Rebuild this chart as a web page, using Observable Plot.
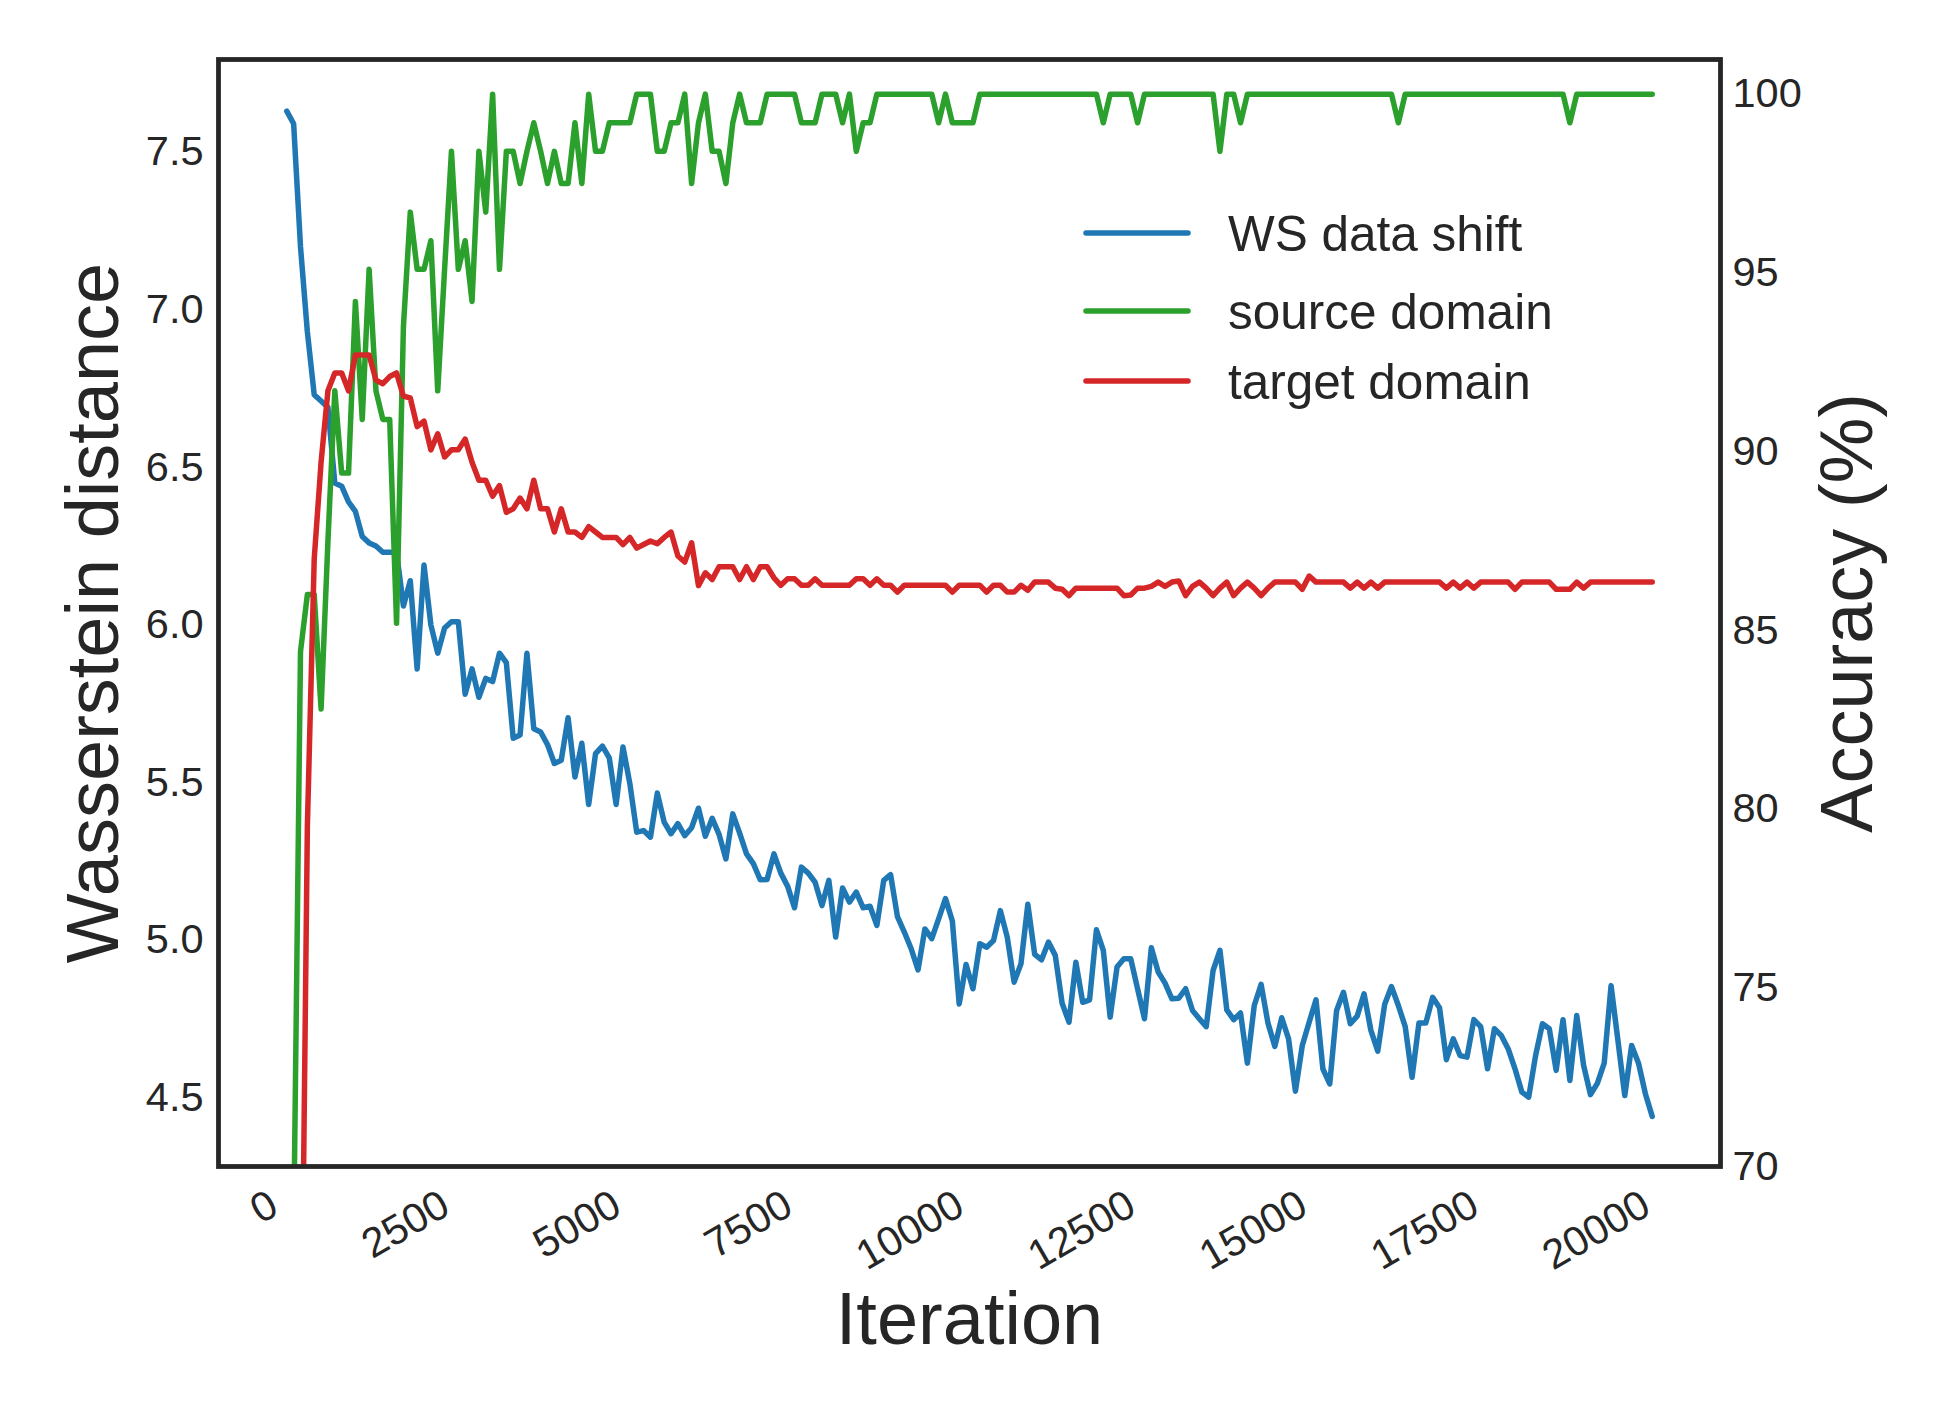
<!DOCTYPE html>
<html><head><meta charset="utf-8">
<script src="https://cdn.jsdelivr.net/npm/d3@7"></script>
<script src="https://cdn.jsdelivr.net/npm/@observablehq/plot@0.6"></script>
<style>
html,body{margin:0;padding:0;background:#fff;}
#chart{position:relative;width:1951px;height:1417px;background:#fff;font-family:"Liberation Sans",Arial,sans-serif;}
#chart svg{position:absolute;left:0;top:0;}
</style></head><body><div id="chart"></div>
<script>
// ---- data ----
const iterations = d3.range(100, 20001, 100);
const wsDataShift = [
7.63,7.59,7.20,6.93,6.73,6.71,6.69,6.45,6.44,6.39,
6.36,6.28,6.26,6.25,6.23,6.23,6.23,6.06,6.14,5.86,
6.19,6.00,5.91,5.99,6.01,6.01,5.78,5.86,5.77,5.83,
5.82,5.91,5.88,5.64,5.65,5.91,5.67,5.66,5.62,5.56,
5.57,5.705,5.517,5.624,5.430,5.591,5.615,5.578,5.430,5.612,
5.496,5.342,5.347,5.326,5.466,5.374,5.337,5.369,5.331,5.356,
5.418,5.329,5.386,5.335,5.257,5.400,5.339,5.273,5.242,5.191,
5.192,5.273,5.212,5.170,5.102,5.231,5.212,5.183,5.109,5.189,
5.009,5.165,5.120,5.152,5.102,5.107,5.046,5.189,5.207,5.074,
5.025,4.972,4.905,5.035,5.004,5.067,5.131,5.060,4.797,4.922,
4.845,4.988,4.977,4.998,5.093,5.009,4.866,4.924,5.113,4.954,
4.937,4.993,4.951,4.799,4.739,4.929,4.802,4.810,5.032,4.967,
4.755,4.914,4.940,4.940,4.845,4.750,4.975,4.898,4.863,4.813,
4.815,4.845,4.776,4.750,4.725,4.903,4.967,4.778,4.747,4.768,
4.609,4.792,4.859,4.736,4.662,4.753,4.686,4.520,4.665,4.739,
4.810,4.591,4.543,4.776,4.834,4.734,4.758,4.829,4.713,4.647,
4.795,4.852,4.792,4.725,4.564,4.736,4.736,4.818,4.785,4.620,
4.686,4.633,4.628,4.747,4.725,4.591,4.718,4.697,4.655,4.591,
4.517,4.501,4.633,4.734,4.718,4.586,4.747,4.554,4.760,4.602,
4.509,4.545,4.609,4.855,4.681,4.506,4.665,4.609,4.512,4.440
];
const sourceDomain = [
50,68,84.4,86.0,86.0,82.8,87.5,91.7,89.4,89.4,
94.2,90.9,95.1,91.7,90.9,90.9,85.2,93.5,96.7,95.1,
95.1,95.9,91.7,95.1,98.4,95.1,95.9,94.2,98.4,96.7,
100,95.1,98.4,98.4,97.5,98.4,99.2,98.4,97.5,98.4,
97.5,97.5,99.2,97.5,100,98.4,98.4,99.2,99.2,99.2,
99.2,100,100,100,98.4,98.4,99.2,99.2,100,97.5,
99.2,100,98.4,98.4,97.5,99.2,100,99.2,99.2,99.2,
100,100,100,100,100,99.2,99.2,99.2,100,100,
100,99.2,100,98.4,99.2,99.2,100,100,100,100,
100,100,100,100,100,99.2,100,99.2,99.2,99.2,
99.2,100,100,100,100,100,100,100,100,100,
100,100,100,100,100,100,100,100,100,99.2,
100,100,100,100,99.2,100,100,100,100,100,
100,100,100,100,100,100,98.4,100,100,99.2,
100,100,100,100,100,100,100,100,100,100,
100,100,100,100,100,100,100,100,100,100,
100,100,99.2,100,100,100,100,100,100,100,
100,100,100,100,100,100,100,100,100,100,
100,100,100,100,100,100,100,99.2,100,100,
100,100,100,100,100,100,100,100,100,100
];
const targetDomain = [
20,35,62,79.5,87.0,89.7,91.7,92.2,92.2,91.7,
92.7,92.7,92.7,92.0,91.9,92.1,92.2,91.55,91.5,90.7,
90.85,90.05,90.5,89.85,90.05,90.05,90.35,89.7,89.2,89.2,
88.75,89.05,88.3,88.4,88.7,88.4,89.2,88.4,88.4,87.75,
88.4,87.75,87.75,87.6,87.9,87.75,87.6,87.6,87.6,87.4,
87.6,87.3,87.4,87.5,87.42,87.6,87.75,87.08,86.91,87.45,
86.25,86.61,86.42,86.78,86.78,86.78,86.42,86.78,86.42,86.78,
86.78,86.47,86.26,86.44,86.44,86.26,86.26,86.44,86.26,86.26,
86.26,86.26,86.26,86.44,86.44,86.26,86.44,86.26,86.26,86.07,
86.26,86.26,86.26,86.26,86.26,86.26,86.26,86.07,86.26,86.26,
86.26,86.26,86.07,86.26,86.26,86.07,86.07,86.26,86.12,86.35,
86.35,86.35,86.18,86.15,85.97,86.18,86.18,86.18,86.18,86.18,
86.18,86.18,85.97,85.99,86.18,86.18,86.23,86.35,86.23,86.35,
86.38,85.97,86.23,86.35,86.18,85.97,86.18,86.35,85.97,86.18,
86.35,86.18,85.97,86.18,86.35,86.35,86.35,86.35,86.15,86.52,
86.35,86.35,86.35,86.35,86.35,86.18,86.35,86.18,86.35,86.18,
86.35,86.35,86.35,86.35,86.35,86.35,86.35,86.35,86.35,86.18,
86.35,86.18,86.35,86.18,86.35,86.35,86.35,86.35,86.35,86.15,
86.35,86.35,86.35,86.35,86.35,86.15,86.15,86.15,86.35,86.18,
86.35,86.35,86.35,86.35,86.35,86.35,86.35,86.35,86.35,86.35
];
const xTicks = [0,2500,5000,7500,10000,12500,15000,17500,20000];
const wsTicks = [4.5,5.0,5.5,6.0,6.5,7.0,7.5];
const accTicks = [70,75,80,85,90,95,100];
const seriesNames = ["WS data shift","source domain","target domain"];
const seriesColors = ["#1f77b4","#2ca02c","#d62728"];
const axisLabels = {x:"Iteration", yLeft:"Wasserstein distance", yRight:"Accuracy (%)"};

// ---- build ----
const rows = iterations.map((it,i)=>({iteration:it, ws:wsDataShift[i], src:sourceDomain[i], tgt:targetDomain[i]}));
const W=1951,H=1417;
const ink="#262626";
const lw=5.5;
const font='"Liberation Sans", Arial, sans-serif';
const common = {width:W,height:H,marginLeft:218,marginRight:231,marginTop:59,marginBottom:251,
  style:{fontFamily:font,color:ink,background:"transparent",overflow:"visible"}};
const xDomain=[-895,20995];

const p1 = Plot.plot({...common,
  x:{domain:xDomain},
  y:{domain:[4.281,7.794]},
  marks:[
    Plot.line(rows,{x:"iteration",y:"ws",stroke:seriesColors[0],strokeWidth:lw,clip:true}),
    Plot.axisX({ticks:xTicks,tickFormat:d=>String(d),tickSize:0,tickPadding:21,tickRotate:-30,
      textAnchor:"end",lineAnchor:"top",fontSize:41.5,dx:-14,label:null,fill:ink}),
    Plot.axisY({ticks:wsTicks,tickFormat:d3.format(".1f"),tickSize:0,tickPadding:15,fontSize:41.5,label:null,fill:ink}),
    Plot.text([axisLabels.yLeft],{text:d=>d,frameAnchor:"left",rotate:-90,dx:-124,fontSize:74,fill:ink,textAnchor:"middle",lineAnchor:"middle"}),
    Plot.text([axisLabels.x],{text:d=>d,frameAnchor:"bottom",dy:154,fontSize:74,fill:ink,textAnchor:"middle",lineAnchor:"middle"})
  ]});

const p2 = Plot.plot({...common,
  x:{domain:xDomain,axis:null},
  y:{domain:[70,100.97]},
  marks:[
    Plot.line(rows,{x:"iteration",y:"src",stroke:seriesColors[1],strokeWidth:lw,clip:true}),
    Plot.line(rows,{x:"iteration",y:"tgt",stroke:seriesColors[2],strokeWidth:lw,clip:true}),
    Plot.axisY({anchor:"right",ticks:accTicks,tickFormat:d3.format("d"),tickSize:0,tickPadding:12,fontSize:41.5,label:null,fill:ink}),
    Plot.frame({stroke:ink,strokeWidth:4.8}),
    Plot.text([axisLabels.yRight],{text:d=>d,frameAnchor:"right",rotate:-90,dx:128,fontSize:74,fill:ink,textAnchor:"middle",lineAnchor:"middle"})
  ]});

const chart=document.getElementById("chart");
chart.appendChild(p1);
chart.appendChild(p2);

// legend (inside the axes, upper right)
const legendRowsY=[233,311,381];
const leg=d3.create("svg").attr("width",W).attr("height",H).attr("font-family",font);
seriesNames.forEach((name,i)=>{
  leg.append("line").attr("x1",1086).attr("x2",1188).attr("y1",legendRowsY[i]).attr("y2",legendRowsY[i])
    .attr("stroke",seriesColors[i]).attr("stroke-width",lw).attr("stroke-linecap","round");
  leg.append("text").attr("x",1228).attr("y",legendRowsY[i]+18).attr("font-size",49.5).attr("fill",ink).text(name);
});
chart.appendChild(leg.node());
</script></body></html>
